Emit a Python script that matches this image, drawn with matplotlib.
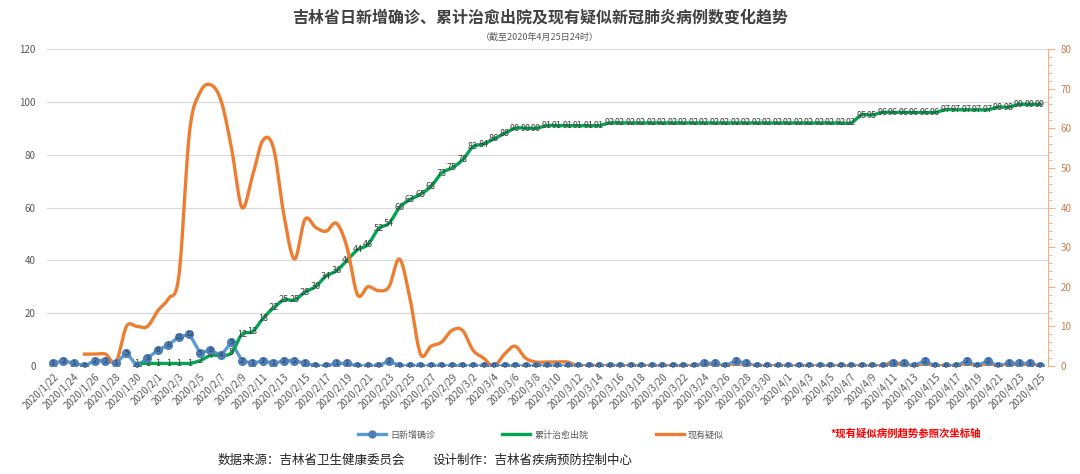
import numpy as np
import matplotlib
matplotlib.use("Agg")
import matplotlib.pyplot as plt
from matplotlib.lines import Line2D
from matplotlib.ticker import MultipleLocator
from datetime import date, timedelta

plt.rcParams['font.family'] = ['Noto Sans CJK SC', 'DejaVu Sans']

nan = np.nan

# categories: 2020/1/22 .. 2020/4/25
start = date(2020, 1, 22)
days = [start + timedelta(days=k) for k in range(95)]
date_labels = [f"{d.year}/{d.month}/{d.day}" for d in days]

# 日新增确诊
new_cases = [1, 2, 1, 0, 2, 2, 1, 5, 0,
             3, 6, 8, 11, 12, 5, 6, 4, 9,
             2, 1, 2, 1, 2, 2, 1, 0, 0, 1, 1, 0, 0, 0, 2,
             0, 0, 0, 0, 0, 0, 0, 0, 0, 0, 0, 0, 0, 0, 0, 0, 0, 0, 0, 0,
             0, 0, 0, 0, 0, 0, 0, 0, 0,
             1, 1, 0, 2, 1,
             0, 0, 0, 0, 0, 0, 0, 0, 0, 0, 0, 0, 0,
             1, 1, 0, 2, 0, 0, 0, 2, 0, 2, 0, 1, 1, 1, 0]

# 累计治愈出院
cured = ([nan] * 8 +
         [1, 1, 1, 1, 1, 1, 2, 4, 4, 5, 12, 13, 18, 22, 25, 25, 28, 30, 34, 36,
          40, 44, 46, 52, 54, 60, 63, 65, 68, 73, 75, 78, 83, 84, 86, 88,
          90, 90, 90] +
         [91] * 6 + [92] * 24 + [95, 95] + [96] * 6 + [97] * 5 + [98, 98] + [99] * 3)

# 现有疑似 (secondary axis)
suspected = ([nan] * 3 +
             [3, 3, 3, 1, 10, 10, 10, 14, 17, 23, 59, 69, 71, 67, 55, 40, 48, 57,
              55, 38, 27, 37, 35, 34, 36, 30, 18, 20, 19, 20, 27, 17, 3, 5, 6, 9,
              9, 4, 2, 0, 3, 5, 2, 1, 1, 1, 1] +
             [0] * 30 + [1] + [0] * 14)


def smooth(xs, ys, n=16):
    # catmull-rom, like excel's smoothed line
    ox, oy = [], []
    m = len(xs)
    t = np.linspace(0, 1, n, endpoint=False)
    for k in range(m - 1):
        p0 = ys[k - 1] if k > 0 else ys[k]
        p1, p2 = ys[k], ys[k + 1]
        p3 = ys[k + 2] if k + 2 < m else ys[k + 1]
        y = 0.5 * (2 * p1 + (-p0 + p2) * t + (2 * p0 - 5 * p1 + 4 * p2 - p3) * t ** 2
                   + (-p0 + 3 * p1 - 3 * p2 + p3) * t ** 3)
        ox.extend(xs[k] + t * (xs[k + 1] - xs[k]))
        oy.extend(y)
    ox.append(xs[-1])
    oy.append(ys[-1])
    return np.array(ox), np.array(oy)


x = np.arange(len(date_labels))
blue = '#5b9bd5'
green = '#00a651'
orange = '#ed7d31'
gray = '#595959'

fig = plt.figure(figsize=(10.8, 4.74), dpi=100)
ax = fig.add_axes([47 / 1080, 1 - 366 / 474, (1048 - 47) / 1080, (366 - 49) / 474])
ax2 = ax.twinx()
ax3 = ax.twinx()

# primary: blue line + green
ax.plot(x, new_cases, color=blue, lw=2.4, zorder=3)
c = np.array(cured, dtype=float)
ok = ~np.isnan(c)
gx, gy = smooth(x[ok], c[ok])
ax.plot(gx, gy, color=green, lw=2.4, zorder=4)
for xi, v in zip(x[ok], c[ok]):
    ax.text(xi, v, f"{int(v)}", ha='center', va='center', fontsize=6.5,
            color='#404040', zorder=5)

ax.set_xlim(-0.57, 94.76)
ax.set_ylim(0, 120)
ax.yaxis.set_major_locator(MultipleLocator(20))
ax.grid(axis='y', color='#d9d9d9', lw=0.8)
ax.set_axisbelow(True)
for s in ax.spines.values():
    s.set_visible(False)
ax.tick_params(axis='y', length=0, labelsize=7, labelcolor=gray, pad=8)
ax.set_xticks(x[::2])
ax.set_xticklabels(date_labels[::2], rotation=45, ha='right', rotation_mode='anchor',
                   fontsize=7, color=gray)
ax.tick_params(axis='x', length=0, pad=4)

# secondary: orange
s = np.array(suspected, dtype=float)
ok2 = ~np.isnan(s)
ox, oy = smooth(x[ok2], s[ok2])
ax2.plot(ox, oy, color=orange, lw=2.4, zorder=3)
ax2.set_ylim(0, 80)
ax2.yaxis.set_major_locator(MultipleLocator(10))
ax2.yaxis.set_minor_locator(MultipleLocator(2))
for k, sp in ax2.spines.items():
    sp.set_visible(k == 'right')
ax2.spines['right'].set_color('#f4b183')
ax2.tick_params(axis='y', which='major', length=5, color='#f4b183', labelsize=7,
                labelcolor='#c5804f', pad=4)
ax2.tick_params(axis='y', which='minor', length=3, color='#f4b183')

# blue markers on top
ax3.set_ylim(0, 120)
ax3.axis('off')
ax3.plot(x, new_cases, ls='none', marker='o', ms=5.5, mfc='#4f7db5', mec='#4f7db5', zorder=5)
for xi, v in zip(x, new_cases):
    ax3.text(xi, v, f"{v}", ha='center', va='center', fontsize=5.5, color='#2a3f5c', zorder=6)

fig.text(0.5, 1 - 18 / 474, '吉林省日新增确诊、累计治愈出院及现有疑似新冠肺炎病例数变化趋势',
         ha='center', va='center', fontsize=11.5, fontweight='bold', color='#404040')
fig.text(0.5, 1 - 37 / 474, '（截至2020年4月25日24时）', ha='center', va='center',
         fontsize=6.5, color=gray)

handles = [Line2D([], [], color=blue, lw=2.4, marker='o', ms=5, mfc='#4f7db5', mec='#4f7db5'),
           Line2D([], [], color=green, lw=2.4),
           Line2D([], [], color=orange, lw=2.4)]
fig.legend(handles, ['日新增确诊', '累计治愈出院', '现有疑似'], ncol=3, loc='center',
           bbox_to_anchor=(541 / 1080, 1 - 435 / 474), frameon=False, fontsize=6.5,
           labelcolor=gray, handlelength=3.1, columnspacing=7.4, handletextpad=0.5)
fig.text(830 / 1080, 1 - 433 / 474, '*现有疑似病例趋势参照次坐标轴', ha='left', va='center',
         fontsize=7.5, fontweight='bold', color='#ff0000')

fig.text(218 / 1080, 1 - 460 / 474, '数据来源：吉林省卫生健康委员会', ha='left', va='center',
         fontsize=9, color='#222222')
fig.text(432 / 1080, 1 - 460 / 474, '设计制作：吉林省疾病预防控制中心', ha='left', va='center',
         fontsize=9, color='#222222')

fig.savefig('out.png', dpi=100)
